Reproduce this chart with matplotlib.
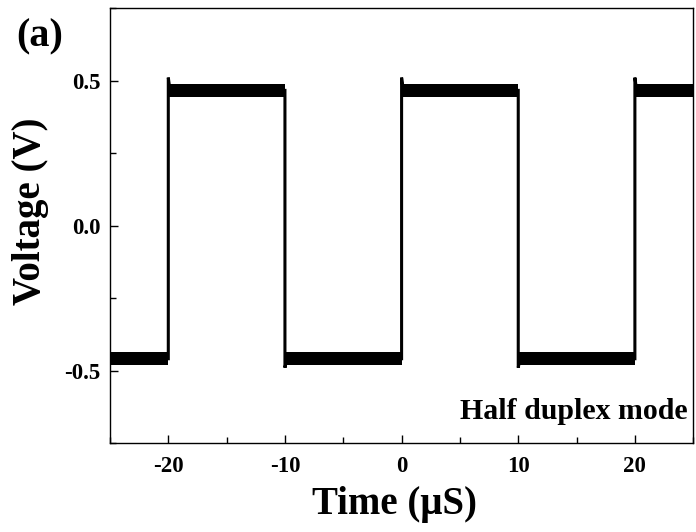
import matplotlib
matplotlib.use("Agg")
import matplotlib.pyplot as plt
from matplotlib.ticker import MultipleLocator

plt.rcParams['font.family'] = ['Liberation Serif', 'DejaVu Serif']
plt.rcParams['font.weight'] = 'bold'

# square wave (time in uS, voltage in V)
edge_times = [-20, -10, 0, 10, 20]
high_level = 0.466
low_level = -0.459
overshoot_high = 0.51
overshoot_low = -0.49
band_half = 0.022   # half-height of the noise band on each plateau
t_start, t_end = -25, 25

# build trace: plateaus between edges
plateau_starts = [t_start] + edge_times
plateau_ends = edge_times + [t_end]
plateau_levels = [low_level, high_level, low_level, high_level, low_level, high_level]

trace_t = [t_start]
trace_v = [low_level]
for tt, lvl in zip(edge_times, plateau_levels[1:]):
    peak = overshoot_high if lvl > 0 else overshoot_low
    prev = trace_v[-1]
    trace_t += [tt, tt, tt + 0.15, tt + 0.4]
    trace_v += [prev, peak, lvl, lvl]
trace_t.append(t_end)
trace_v.append(plateau_levels[-1])

fig = plt.figure(figsize=(6.96, 5.32), dpi=100)
ax = fig.add_axes([0.158, 0.167, 0.838, 0.818])

ax.plot(trace_t, trace_v, color='black', lw=2.2, solid_joinstyle='miter')
for s, e, lvl in zip(plateau_starts, plateau_ends, plateau_levels):
    ax.fill_between([s, e], lvl - band_half, lvl + band_half, color='black', lw=0)

ax.set_xlim(-25, 25)
ax.set_ylim(-0.75, 0.75)
ax.xaxis.set_major_locator(MultipleLocator(10))
ax.xaxis.set_minor_locator(MultipleLocator(5))
ax.yaxis.set_major_locator(MultipleLocator(0.5))
ax.yaxis.set_minor_locator(MultipleLocator(0.25))
ax.tick_params(which='both', direction='in', top=False, right=False, labelsize=16.5, width=1)
ax.tick_params(which='major', length=6)
ax.tick_params(which='minor', length=4)
ax.xaxis.set_major_formatter(plt.FuncFormatter(lambda v, p: f"{v:g}"))
ax.yaxis.set_major_formatter(plt.FuncFormatter(lambda v, p: f"{v:.1f}"))
ax.tick_params(axis='x', pad=9)
ax.tick_params(axis='y', pad=7)
for sp in ax.spines.values():
    sp.set_linewidth(1)

ax.set_xlabel('Time (\u03bcS)', fontsize=28, fontweight='bold')
ax.xaxis.set_label_coords(0.488, -0.098)
ax.set_ylabel('Voltage (V)', fontsize=28, fontweight='bold')
ax.yaxis.set_label_coords(-0.104, 0.533)
ax.text(0.99, 0.055, 'Half duplex mode', transform=ax.transAxes, ha='right', va='baseline',
        fontsize=21.5, fontweight='bold')
fig.text(0.024, 0.912, '(a)', fontsize=29, fontweight='bold')

fig.savefig('out.png', dpi=100)
